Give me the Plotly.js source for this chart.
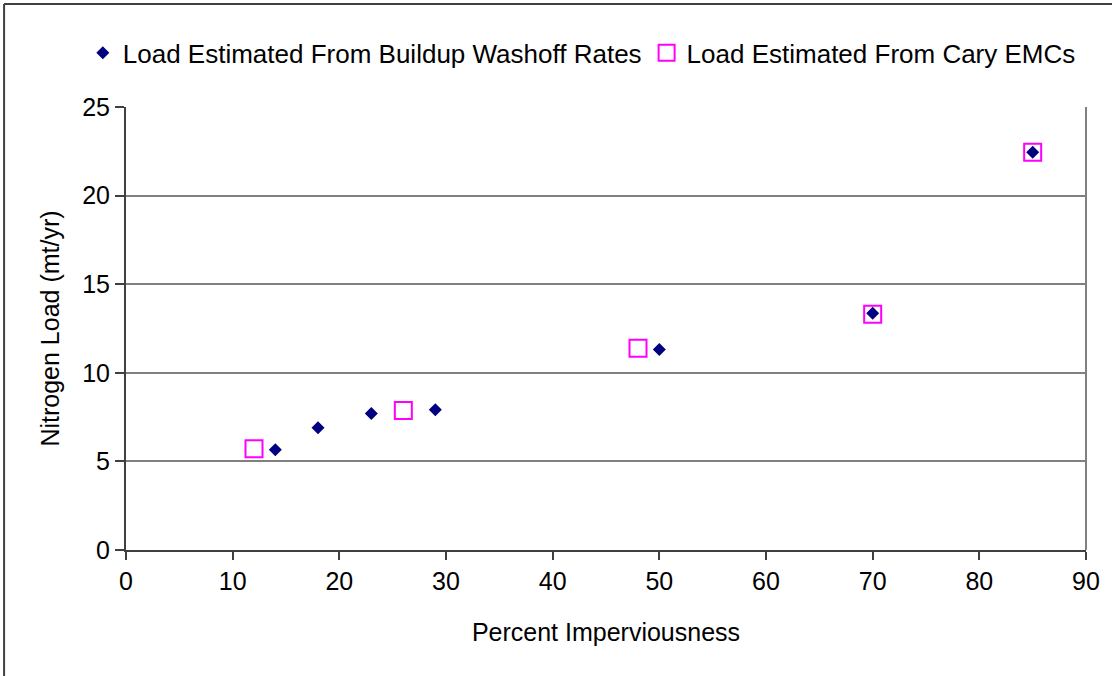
<!DOCTYPE html>
<html>
<head>
<meta charset="utf-8">
<script src="https://cdn.plot.ly/plotly-3.0.1.min.js"></script>
<style>
  html, body { margin: 0; padding: 0; background: #fff; }
  #chart { width: 1112px; height: 676px; }
</style>
</head>
<body>
<div id="chart"></div>
<script>
// Percent imperviousness vs. annual nitrogen load
const buildupX = [14, 18, 23, 29, 50, 70, 85];
const buildupY = [5.66, 6.9, 7.7, 7.92, 11.32, 13.36, 22.45];
const caryX = [12, 26, 48, 70, 85];
const caryY = [5.72, 7.87, 11.38, 13.3, 22.45];

const seriesNames = [
  'Load Estimated From Buildup Washoff Rates',
  'Load Estimated From Cary EMCs'
];
const xTicks = [0, 10, 20, 30, 40, 50, 60, 70, 80, 90];
const yTicks = [0, 5, 10, 15, 20, 25];

const font = 'Liberation Sans, Arial, sans-serif';
const fs = 25;

const traces = [
  {
    x: caryX, y: caryY, type: 'scatter', mode: 'markers',
    name: seriesNames[1],
    marker: { symbol: 'square-open', size: 17, color: '#FF00FF', line: { width: 2, color: '#FF00FF' } }
  },
  {
    x: buildupX, y: buildupY, type: 'scatter', mode: 'markers',
    name: seriesNames[0],
    marker: { symbol: 'diamond', size: 10, color: '#000080', line: { width: 0 } }
  }
];

const layout = {
  width: 1112, height: 676,
  margin: { l: 126, r: 26, t: 107, b: 126 },
  paper_bgcolor: '#fff', plot_bgcolor: '#fff',
  font: { family: font, size: fs, color: '#000' },
  showlegend: true,
  legend: {
    orientation: 'h', traceorder: 'reversed',
    x: -0.045, xanchor: 'left', y: 1.122, yanchor: 'middle',
    font: { family: font, size: 26, color: '#000' },
    itemclick: false, bgcolor: 'rgba(0,0,0,0)'
  },
  xaxis: {
    range: [0, 90], tickvals: xTicks, ticktext: xTicks.map(String),
    showgrid: false, zeroline: false,
    showline: true, linecolor: '#404040', linewidth: 2,
    ticks: 'outside', ticklen: 8, tickwidth: 2, tickcolor: '#404040',
    tickfont: { family: font, size: fs, color: '#000' },
    title: { text: 'Percent Imperviousness', font: { family: font, size: fs, color: '#000' }, standoff: 29 },
    fixedrange: true
  },
  yaxis: {
    range: [0, 25], tickvals: yTicks, ticktext: yTicks.map(String),
    showgrid: true, gridcolor: '#808080', gridwidth: 2,
    zeroline: false,
    showline: true, linecolor: '#404040', linewidth: 2,
    ticks: 'outside', ticklen: 9, tickwidth: 2, tickcolor: '#404040',
    tickfont: { family: font, size: fs, color: '#000' },
    title: { text: 'Nitrogen Load (mt/yr)', font: { family: font, size: fs, color: '#000' }, standoff: 15 },
    fixedrange: true
  },
  shapes: [
    // plot area right border
    { type: 'line', xref: 'paper', yref: 'paper', x0: 1, x1: 1, y0: 0, y1: 1,
      line: { color: '#808080', width: 2 } },
    // chart frame (top and left edges)
    { type: 'line', xref: 'paper', yref: 'paper', x0: -0.127, x1: 1.05, y0: 1.2325, y1: 1.2325,
      line: { color: '#404040', width: 2 } },
    { type: 'line', xref: 'paper', yref: 'paper', x0: -0.127, x1: -0.127, y0: -0.3, y1: 1.2325,
      line: { color: '#404040', width: 2 } }
  ]
};

Plotly.newPlot('chart', traces, layout, { displayModeBar: false, staticPlot: true });
</script>
</body>
</html>
